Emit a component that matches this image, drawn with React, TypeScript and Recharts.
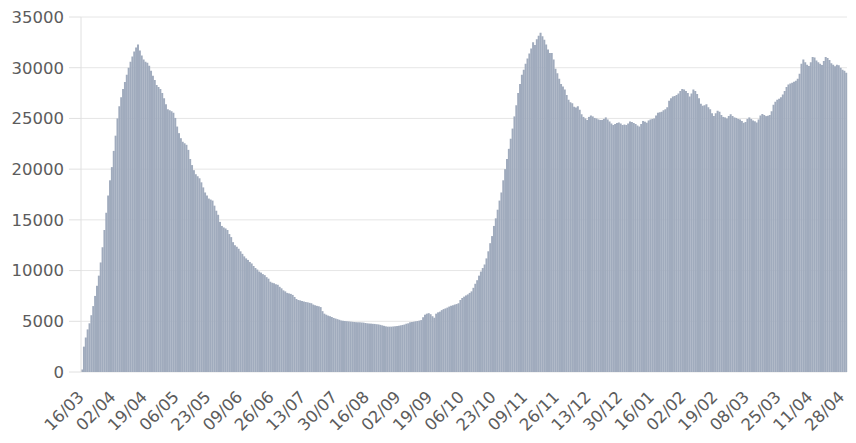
import React from "react";
import { BarChart, Bar, CartesianGrid, XAxis, YAxis } from "recharts";

// daily values, one array per month (first bar = 16/03/2020)
const mar2020 = [250, 2500, 3400, 4200, 4800, 5600, 6500, 7500, 8500, 9500, 10800, 12300, 14000, 15700, 17400, 18900];
const apr2020 = [20200, 21800, 23300, 25000, 26200, 27100, 27900, 28600, 29300, 30000, 30600, 31100, 31600, 32000, 32300, 31700, 31200, 30800, 30600, 30500, 30200, 29700, 29200, 28800, 28300, 28100, 27900, 27500, 27000, 26400];
const may2020 = [25900, 25800, 25700, 25550, 25050, 24200, 23550, 23050, 22700, 22550, 22400, 21900, 21000, 20400, 19900, 19500, 19300, 19100, 18700, 18200, 17700, 17400, 17100, 17000, 16900, 16400, 15900, 15500, 14800, 14400, 14250];
const jun2020 = [14150, 14000, 13600, 13300, 12800, 12500, 12350, 12150, 11900, 11650, 11400, 11200, 11050, 10850, 10700, 10450, 10250, 10100, 9900, 9800, 9650, 9550, 9350, 9200, 8900, 8800, 8750, 8650, 8600, 8400];
const jul2020 = [8250, 8050, 7950, 7800, 7750, 7700, 7600, 7400, 7200, 7100, 7060, 7000, 6950, 6900, 6870, 6820, 6780, 6650, 6580, 6520, 6480, 6400, 6000, 5750, 5650, 5560, 5500, 5420, 5330, 5270, 5210];
const aug2020 = [5150, 5080, 5050, 5030, 5010, 4990, 4970, 4950, 4930, 4910, 4900, 4900, 4880, 4870, 4830, 4800, 4780, 4770, 4750, 4740, 4710, 4690, 4650, 4600, 4550, 4500, 4470, 4470, 4470, 4490, 4510];
const sep2020 = [4530, 4560, 4600, 4640, 4680, 4760, 4800, 4900, 4930, 4960, 5000, 5030, 5070, 5120, 5400, 5650, 5750, 5800, 5700, 5500, 5350, 5750, 5880, 5950, 6100, 6200, 6270, 6350, 6450, 6530];
const oct2020 = [6580, 6650, 6700, 6780, 7100, 7300, 7430, 7550, 7650, 7800, 7950, 8300, 8700, 9050, 9500, 9900, 10250, 10600, 11200, 11900, 12700, 13400, 14400, 15150, 16000, 16900, 17700, 18900, 20000, 21000, 22000];
const nov2020 = [23000, 24000, 25200, 26300, 27500, 28400, 29300, 29800, 30400, 30900, 31400, 31900, 32500, 32250, 32800, 33150, 33450, 33100, 32750, 32300, 31800, 31450, 31450, 30800, 29900, 29450, 28900, 28400, 28150, 27850];
const dec2020 = [27300, 26850, 26600, 26500, 26150, 26080, 26200, 25850, 25400, 25150, 25000, 24850, 25150, 25300, 25200, 25050, 25000, 24900, 24850, 24850, 24950, 25100, 24900, 24700, 24500, 24350, 24450, 24550, 24600, 24500, 24350];
const jan2021 = [24400, 24350, 24500, 24700, 24650, 24550, 24450, 24300, 24200, 24450, 24750, 24680, 24580, 24800, 24900, 24950, 25000, 25300, 25550, 25600, 25650, 25800, 25900, 26100, 26750, 27000, 27150, 27200, 27300, 27450, 27700];
const feb2021 = [27900, 27850, 27700, 27500, 27150, 27450, 27850, 27700, 27400, 27000, 26450, 26250, 26300, 26400, 26100, 25900, 25500, 25250, 25500, 25750, 25650, 25350, 25150, 25100, 25000, 25250, 25400, 25250];
const mar2021 = [25100, 25050, 24950, 24900, 24750, 24570, 24650, 24950, 25100, 24950, 24800, 24720, 24600, 24900, 25300, 25430, 25330, 25230, 25260, 25330, 25700, 26350, 26650, 26850, 26950, 27100, 27350, 27700, 28100, 28350, 28450];
const apr2021 = [28520, 28620, 28720, 28900, 29400, 30400, 30800, 30550, 30300, 30160, 30550, 31050, 31000, 30700, 30550, 30400, 30260, 30650, 31050, 30950, 30750, 30450, 30300, 30150, 30300, 30250, 30000, 29800, 29700, 29500];

const months = [
    { month: "03", year: 2020, first: 16, values: mar2020 },
    { month: "04", year: 2020, first: 1, values: apr2020 },
    { month: "05", year: 2020, first: 1, values: may2020 },
    { month: "06", year: 2020, first: 1, values: jun2020 },
    { month: "07", year: 2020, first: 1, values: jul2020 },
    { month: "08", year: 2020, first: 1, values: aug2020 },
    { month: "09", year: 2020, first: 1, values: sep2020 },
    { month: "10", year: 2020, first: 1, values: oct2020 },
    { month: "11", year: 2020, first: 1, values: nov2020 },
    { month: "12", year: 2020, first: 1, values: dec2020 },
    { month: "01", year: 2021, first: 1, values: jan2021 },
    { month: "02", year: 2021, first: 1, values: feb2021 },
    { month: "03", year: 2021, first: 1, values: mar2021 },
    { month: "04", year: 2021, first: 1, values: apr2021 },
];

const yTicks = [0, 5000, 10000, 15000, 20000, 25000, 30000, 35000];

const data = months.flatMap((m) =>
    m.values.map((v, k) => ({
        date: `${String(m.first + k).padStart(2, "0")}/${m.month}/${m.year}`,
        value: v,
    }))
);

const FONT = "DejaVu Sans";
const TEXT = "#5c5c5c";

const DateTick = (props: any) => {
    const { x, y, payload } = props;
    const ax = x + 3;
    const ay = y + 26;
    return (
        <text
            x={ax}
            y={ay}
            textAnchor="end"
            fill={TEXT}
            fontSize={16.5}
            fontFamily={FONT}
            transform={`rotate(-45 ${ax} ${ay})`}
        >
            {String(payload.value).slice(0, 5)}
        </text>
    );
};

const App: React.FC = () => {
    return (
        <div style={{ position: "absolute", left: 0, top: 0, width: 856, height: 443, background: "#fff" }}>
            <BarChart
                width={856}
                height={443}
                data={data}
                margin={{ top: 17, right: 9, bottom: 0, left: 0 }}
                barCategoryGap="4%"
            >
                <CartesianGrid stroke="#e6e6e6" vertical={false} />
                <XAxis
                    dataKey="date"
                    interval={16}
                    height={71}
                    tick={<DateTick />}
                    tickLine={false}
                    tickSize={0}
                    tickMargin={0}
                    axisLine={false}
                />
                <YAxis
                    width={81}
                    domain={[0, 35000]}
                    ticks={yTicks}
                    interval={0}
                    tick={{ fill: TEXT, fontSize: 16.5, fontFamily: FONT }}
                    tickSize={12}
                    tickMargin={5}
                    tickLine={{ stroke: "#e0e0e0" }}
                    axisLine={{ stroke: "#e0e0e0" }}
                />
                <Bar dataKey="value" fill="#a0abbd" isAnimationActive={false} />
            </BarChart>
        </div>
    );
};

export default App;
